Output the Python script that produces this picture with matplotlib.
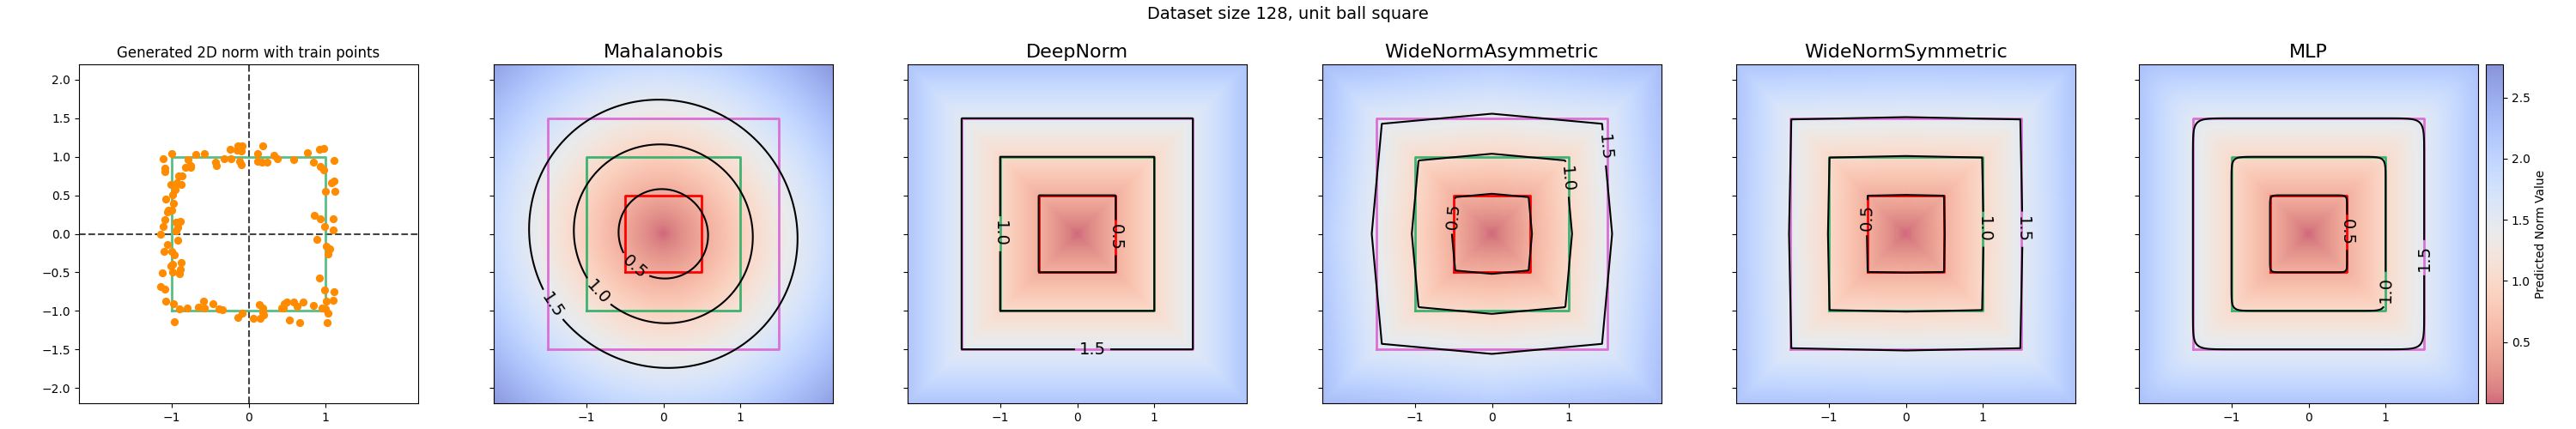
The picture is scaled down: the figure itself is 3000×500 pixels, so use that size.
import numpy as np
import matplotlib
matplotlib.use("Agg")
import matplotlib.pyplot as plt

# train points
TRAIN_X = [-1.00, -1.11, -1.09, -1.09, -0.79, -0.82, -0.75, -0.75, -0.68, -0.57,
           -0.43, -0.42, -0.32, -0.23, -0.24, -0.14, -0.08, -0.15, -0.09, -0.12,
           -0.10, 0.18, 0.12, 0.12, 0.17, 0.24, 0.33, 0.37, 0.58, 0.76,
           0.84, 0.92, 0.97, 0.93, 0.97, 1.11,
           1.08, 1.11, 1.00, 1.12, 0.85, 0.93, 1.10, 0.99, 1.10, 0.89,
           1.01, 1.05, 1.03, 0.92, 0.99, 1.11, 1.01, 1.10,
           0.95, 1.00, 1.03, 1.02, 0.84, 0.71, 0.63, 0.59, 0.66, 0.53,
           0.50, 0.46, 0.45, 0.43, 0.14, 0.18, 0.18, 0.19, 0.15, 0.06,
           -0.08, -0.14, -0.34, -0.38, -0.46, -0.57, -0.58, -0.65, -0.80, -0.90,
           -0.97, -0.96,
           -1.08, -1.09, -1.14, -1.12, -1.01, -0.99, -0.99, -0.89, -0.90, -0.87,
           -1.10, -1.00, -0.96, -1.05, -0.92, -1.14, -1.11, -1.09, -0.92, -0.94,
           -0.94, -0.89, -1.05, -1.04, -1.00, -0.98, -1.08, -0.99, -0.95, -1.01,
           -0.93, -0.88, -0.91, -0.86]
TRAIN_Y = [1.04, 0.97, 0.85, 0.81, 0.96, 0.86, 0.89, 0.86, 1.03, 1.04,
           0.93, 0.89, 0.98, 0.97, 1.10, 1.14, 1.14, 1.09, 1.07, 0.94,
           0.90, 1.14, 1.04, 0.94, 0.93, 0.93, 1.02, 0.98, 0.96, 1.05,
           0.93, 1.10, 1.11, 0.88, 0.83, 0.95,
           0.66, 0.69, 0.55, 0.55, 0.24, 0.19, 0.20, 0.10, 0.05, -0.07,
           -0.16, -0.19, -0.26, -0.57, -0.73, -0.75, -0.87, -0.86,
           -0.96, -0.98, -1.03, -1.15, -0.93, -0.89, -0.94, -0.89, -1.15, -1.12,
           -0.89, -0.91, -0.96, -0.96, -0.92, -0.96, -1.02, -1.05, -1.10, -1.10,
           -1.03, -1.09, -0.99, -0.98, -0.91, -0.96, -0.87, -0.95, -0.96, -0.97,
           -0.91, -1.14,
           -0.87, -0.72, -0.69, -0.51, -0.42, -0.39, -0.50, -0.46, -0.52, -0.37,
           -0.23, -0.23, -0.27, -0.14, -0.08, 0.00, 0.10, 0.18, 0.08, 0.04,
           0.15, 0.16, 0.28, 0.31, 0.31, 0.39, 0.45, 0.51, 0.57, 0.64,
           0.66, 0.64, 0.75, 0.75]

MODELS = ["Mahalanobis", "DeepNorm", "WideNormAsymmetric", "WideNormSymmetric", "MLP"]
LEVELS = [0.5, 1.0, 1.5]
SQUARE_COLORS = ["red", "mediumseagreen", "orchid"]

# Mahalanobis matrix fitted to the drawn ellipses
MAHA_M = [[0.743, 0.026], [0.026, 0.743]]
# max-of-linear norms: max(|n1*x + n2*y|, |n1*x - n2*y|, |n1*y + n2*x|, |n1*y - n2*x|)
PLANE_COEFS = {"DeepNorm": (1.0, 0.0),
               "WideNormAsymmetric": (0.962, 0.088),
               "WideNormSymmetric": (0.99, 0.02)}
MLP_P = 18

# label spots (x, y) per model for contour labels
LABEL_SPOTS = {"Mahalanobis": [(-0.36, -0.41), (-0.83, -0.74), (-1.42, -0.91)],
               "DeepNorm": [(0.5, -0.05), (-1.0, 0.0), (0.2, -1.5)],
               "WideNormAsymmetric": [(-0.53, 0.23), (1.01, 0.71), (1.5, 1.12)],
               "WideNormSymmetric": [(-0.52, 0.21), (1.04, 0.06), (1.54, 0.06)],
               "MLP": [(0.53, 0.02), (1.05, -0.72), (1.5, -0.31)]}

LIM = 2.2
VMIN, VMAX = 0.0, 2.77


def norm_field(name, X, Y):
    if name == "Mahalanobis":
        m = MAHA_M
        return np.sqrt(m[0][0] * X**2 + 2 * m[0][1] * X * Y + m[1][1] * Y**2)
    if name == "MLP":
        return (np.abs(X)**MLP_P + np.abs(Y)**MLP_P) ** (1.0 / MLP_P)
    n1, n2 = PLANE_COEFS[name]
    return np.max(np.abs(np.stack([n1 * X + n2 * Y, n1 * X - n2 * Y,
                                   n1 * Y + n2 * X, n1 * Y - n2 * X])), axis=0)


g = np.linspace(-LIM, LIM, 400)
X, Y = np.meshgrid(g, g)

fig = plt.figure(figsize=(30, 5), dpi=100)
lefts = [92, 575, 1057, 1540, 2022, 2491]
axes = [fig.add_axes([l / 3000, 30 / 500, 395 / 3000, 395 / 500]) for l in lefts]
cax = fig.add_axes([2895 / 3000, 30 / 500, 20 / 3000, 395 / 500])

# panel 1: train points
ax = axes[0]
ax.axhline(0, color="#444444", ls="--", lw=1.5, zorder=1)
ax.axvline(0, color="#444444", ls="--", lw=1.5, zorder=1)
ax.plot([-1, 1, 1, -1, -1], [-1, -1, 1, 1, -1], color="mediumseagreen", alpha=0.85, lw=2, zorder=2)
ax.scatter(TRAIN_X, TRAIN_Y, color="darkorange", s=32, zorder=3)
ax.set_title("Generated 2D norm with train points", fontsize=12)

for ax, name in zip(axes[1:], MODELS):
    Z = norm_field(name, X, Y)
    im = ax.imshow(Z, origin="lower", extent=[-LIM, LIM, -LIM, LIM], cmap="coolwarm_r",
                   alpha=0.6, vmin=VMIN, vmax=VMAX, interpolation="bilinear")
    for lev, col in zip(LEVELS, SQUARE_COLORS):
        ax.plot([-lev, lev, lev, -lev, -lev], [-lev, -lev, lev, lev, -lev], color=col, lw=2)
    cs = ax.contour(X, Y, Z, levels=LEVELS, colors="black", linewidths=1.5)
    ax.clabel(cs, fontsize=14, manual=LABEL_SPOTS[name], inline=True)
    ax.set_title(name, fontsize=16)

for ax in axes:
    ax.set_xlim(-LIM, LIM)
    ax.set_ylim(-LIM, LIM)
    ax.set_aspect("equal")
    ax.set_xticks([-1, 0, 1])
    ax.set_yticks(np.arange(-2.0, 2.01, 0.5))
for ax in axes[1:]:
    ax.set_yticklabels([])

cb = fig.colorbar(im, cax=cax)
cb.set_label("Predicted Norm Value")
cb.set_ticks([0.5, 1.0, 1.5, 2.0, 2.5])

fig.suptitle("Dataset size 128, unit ball square", fontsize=14, y=0.985)
fig.savefig("out.png", dpi=100)
